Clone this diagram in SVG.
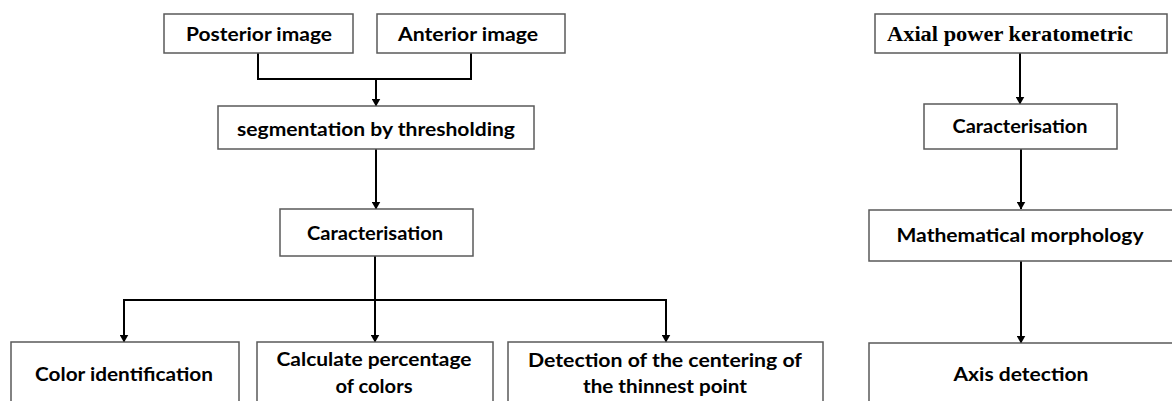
<svg xmlns="http://www.w3.org/2000/svg" width="1172" height="401" viewBox="0 0 1172 401">
<style>
.box{fill:#fff;stroke:#5a5a5a;stroke-width:1.5}
.t{font-family:Lato,"Open Sans","Liberation Sans",sans-serif;font-weight:bold;font-size:19px;fill:#000;text-anchor:middle}
.s{font-family:"Liberation Serif","Times New Roman",serif;font-weight:bold;font-size:20px;fill:#000}
.c{fill:none;stroke:#000;stroke-width:2}
</style>
<defs>
<marker id="ah" markerWidth="8" markerHeight="9" refX="7.5" refY="4.5" orient="auto" markerUnits="userSpaceOnUse">
<path d="M0,0 L8,4.5 L0,9 Z" fill="#000"/>
</marker>
</defs>
<rect width="1172" height="401" fill="#fff"/>
<g id="connectors">
<path class="c" d="M258,53 V79 H471 V53"/>
<path class="c" d="M376,79 V106" marker-end="url(#ah)"/>
<path class="c" d="M376,149 V209" marker-end="url(#ah)"/>
<path class="c" d="M375,256 V300"/>
<path class="c" d="M124,342 V300 H666 V342" marker-end="url(#ah)"/>
<path class="c" d="M124,300 V342" marker-end="url(#ah)"/>
<path class="c" d="M375,300 V342" marker-end="url(#ah)"/>
<path class="c" d="M1020,53 V104" marker-end="url(#ah)"/>
<path class="c" d="M1021,149 V209" marker-end="url(#ah)"/>
<path class="c" d="M1021,261 V343" marker-end="url(#ah)"/>
</g>
<g id="posterior">
<rect class="box" x="164" y="14" width="189" height="39"/>
<text class="t" x="259" y="41" textLength="146" lengthAdjust="spacingAndGlyphs">Posterior image</text>
</g>
<g id="anterior">
<rect class="box" x="377" y="14" width="188" height="39"/>
<text class="t" x="468" y="41" textLength="140" lengthAdjust="spacingAndGlyphs">Anterior image</text>
</g>
<g id="segmentation">
<rect class="box" x="218" y="106" width="316" height="43"/>
<text class="t" x="376" y="136" textLength="278" lengthAdjust="spacingAndGlyphs">segmentation by thresholding</text>
</g>
<g id="caracterisation-left">
<rect class="box" x="280" y="209" width="193" height="47"/>
<text class="t" x="375" y="240" textLength="136" lengthAdjust="spacingAndGlyphs">Caracterisation</text>
</g>
<g id="color-identification">
<rect class="box" x="11" y="342" width="228" height="70"/>
<text class="t" x="124" y="381" textLength="178" lengthAdjust="spacingAndGlyphs">Color identification</text>
</g>
<g id="calculate-percentage">
<rect class="box" x="257" y="342" width="236" height="70"/>
<text class="t" x="374" y="366" textLength="195" lengthAdjust="spacingAndGlyphs">Calculate percentage</text>
<text class="t" x="374" y="393" textLength="77" lengthAdjust="spacingAndGlyphs">of colors</text>
</g>
<g id="detection-centering">
<rect class="box" x="508" y="342" width="315" height="70"/>
<text class="t" x="665" y="367" textLength="274" lengthAdjust="spacingAndGlyphs">Detection of the centering of</text>
<text class="t" x="665" y="393" textLength="164" lengthAdjust="spacingAndGlyphs">the thinnest point</text>
</g>
<g id="axial-power">
<rect class="box" x="875" y="14" width="292" height="39"/>
<text class="s" x="887" y="41" textLength="246" lengthAdjust="spacingAndGlyphs">Axial power keratometric</text>
</g>
<g id="caracterisation-right">
<rect class="box" x="924" y="104" width="193" height="45"/>
<text class="t" x="1020" y="133" textLength="135" lengthAdjust="spacingAndGlyphs">Caracterisation</text>
</g>
<g id="mathematical-morphology">
<path class="box" d="M1174,210 H869 V261 H1174"/>
<text class="t" x="1020" y="242" textLength="247" lengthAdjust="spacingAndGlyphs">Mathematical morphology</text>
</g>
<g id="axis-detection">
<path class="box" d="M1174,343 H869 V412"/>
<text class="t" x="1021" y="381" textLength="135" lengthAdjust="spacingAndGlyphs">Axis detection</text>
</g>
</svg>
